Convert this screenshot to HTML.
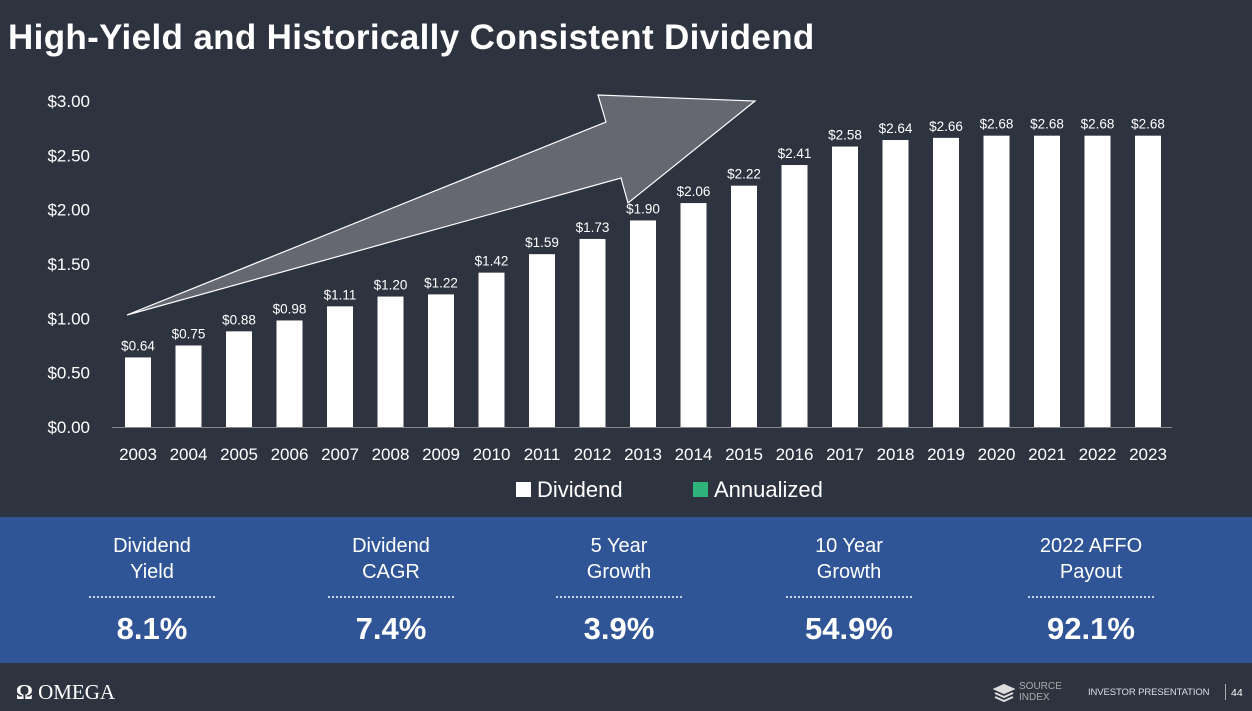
<!DOCTYPE html>
<html><head><meta charset="utf-8">
<style>
body{margin:0;width:1252px;height:711px;background:#2e3340;overflow:hidden;font-family:"Liberation Sans",sans-serif;position:relative;color:#fff}
.title{position:absolute;left:8px;top:18px;font-size:35px;font-weight:bold;letter-spacing:0.35px}
.band{position:absolute;left:0;top:517px;width:1252px;height:146px;background:#2f5597}
.stat{position:absolute;top:0;width:200px;text-align:center}
.stat .lbl{position:absolute;top:16px;width:200px;font-size:20px;line-height:26px}
.stat .dots{position:absolute;top:79px;left:37px;width:126px;border-top:2px dotted #c9d3e8}
.stat .val{position:absolute;top:94px;width:200px;font-size:31px;font-weight:bold}
</style></head><body>
<div class="title">High-Yield and Historically Consistent Dividend</div>
<svg id="chart" width="1252" height="517" style="position:absolute;left:0;top:0"></svg>
<div class="band">
  <div class="stat" style="left:52px"><div class="lbl">Dividend<br>Yield</div><div class="dots"></div><div class="val">8.1%</div></div>
  <div class="stat" style="left:291px"><div class="lbl">Dividend<br>CAGR</div><div class="dots"></div><div class="val">7.4%</div></div>
  <div class="stat" style="left:519px"><div class="lbl">5 Year<br>Growth</div><div class="dots"></div><div class="val">3.9%</div></div>
  <div class="stat" style="left:749px"><div class="lbl">10 Year<br>Growth</div><div class="dots"></div><div class="val">54.9%</div></div>
  <div class="stat" style="left:991px"><div class="lbl">2022 AFFO<br>Payout</div><div class="dots"></div><div class="val">92.1%</div></div>
</div>
<div style="position:absolute;left:16px;top:680px;font-family:'Liberation Serif',serif;font-size:21px"><b>Ω</b> OMEGA</div>
<svg style="position:absolute;left:993px;top:683px" width="22" height="20"><g fill="none" stroke="#ddd" stroke-width="2"><path d="M2 6 L11 2 L20 6 L11 10Z" fill="#ddd"/><path d="M2 10 L11 14 L20 10"/><path d="M2 14 L11 18 L20 14"/></g></svg>
<div style="position:absolute;left:1019px;top:681px;font-size:10px;line-height:11px;color:#aaa">SOURCE<br>INDEX</div>
<div style="position:absolute;left:1088px;top:687px;font-size:9.5px;letter-spacing:-0.1px;color:#dde">INVESTOR PRESENTATION</div>
<div style="position:absolute;left:1225px;top:684px;height:16px;border-left:1px solid #aaa"></div>
<div style="position:absolute;left:1231px;top:687px;font-size:10.5px">44</div>
<script>
const years=["2003","2004","2005","2006","2007","2008","2009","2010","2011","2012","2013","2014","2015","2016","2017","2018","2019","2020","2021","2022","2023"];
const dividends=[0.64,0.75,0.88,0.98,1.11,1.20,1.22,1.42,1.59,1.73,1.90,2.06,2.22,2.41,2.58,2.64,2.66,2.68,2.68,2.68,2.68];
const yTicks=[0,0.5,1,1.5,2,2.5,3];
const svg=document.getElementById('chart');
const NS='http://www.w3.org/2000/svg';
const y=v=>427-v*108.7;
const x=i=>138+i*50.5;
function mk(t,a,txt){const e=document.createElementNS(NS,t);for(const k in a)e.setAttribute(k,a[k]);if(txt!==undefined)e.textContent=txt;svg.appendChild(e);return e;}
yTicks.forEach(v=>{const t=mk('text',{x:90,y:y(v)+6,'text-anchor':'end','font-size':17,fill:'#fff'},'$'+v.toFixed(2));
});
const base=mk('line',{x1:112,x2:1172,y1:427.5,y2:427.5,stroke:'#888','stroke-width':1});

dividends.forEach((d,i)=>{
 const r=mk('rect',{x:x(i)-13,y:y(d),width:26,height:427-y(d),fill:'#fff'});
 
 const t=mk('text',{x:x(i),y:y(d)-7,'text-anchor':'middle','font-size':13.5,fill:'#fff'},'$'+d.toFixed(2));
 
});
years.forEach((yr,i)=>{const t=mk('text',{x:x(i),y:460,'text-anchor':'middle','font-size':17,fill:'#fff'},yr);
});
const ar=mk('polygon',{points:'127,315 606,122 598,95 755,101 628,203 621,178',fill:'rgba(110,114,122,0.85)',stroke:'#fff','stroke-width':1.2});

const l1=mk('rect',{x:516,y:482,width:15,height:15,fill:'#fff'});

const lt1=mk('text',{x:537,y:497,'font-size':22,fill:'#fff'},'Dividend');

const l2=mk('rect',{x:693,y:482,width:15,height:15,fill:'#2fb37a'});

const lt2=mk('text',{x:714,y:497,'font-size':22,fill:'#fff'},'Annualized');

</script>
</body></html>
